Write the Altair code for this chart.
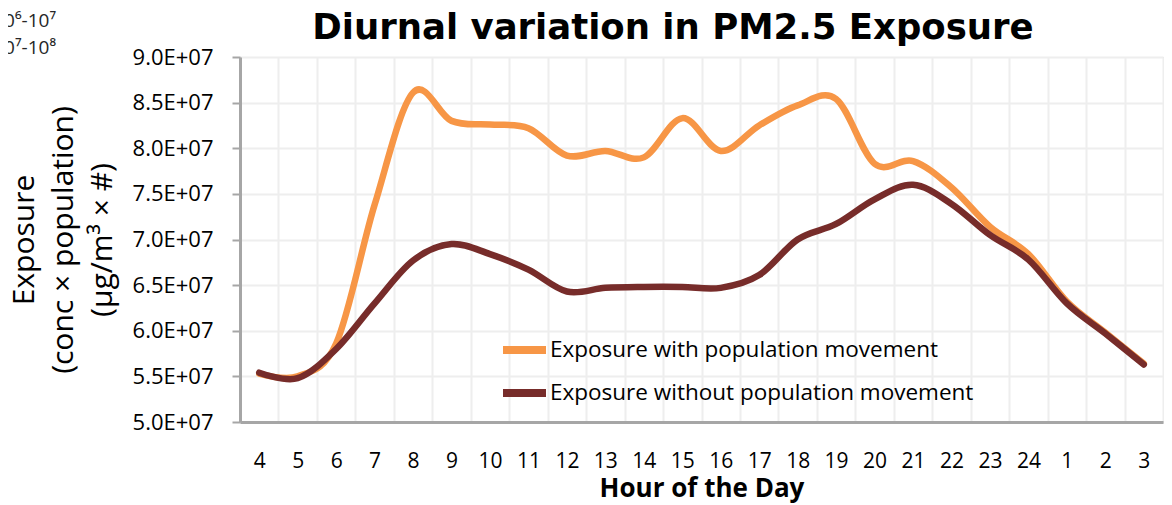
import altair as alt
import pandas as pd

# ---------------- data ----------------
hours = ["4", "5", "6", "7", "8", "9", "10", "11", "12", "13", "14", "15",
         "16", "17", "18", "19", "20", "21", "22", "23", "24", "1", "2", "3"]
with_movement = [5.53e7, 5.50e7, 5.86e7, 7.38e7, 8.61e7, 8.30e7, 8.26e7, 8.22e7,
                 7.92e7, 7.97e7, 7.90e7, 8.33e7, 7.97e7, 8.25e7, 8.47e7, 8.54e7,
                 7.83e7, 7.86e7, 7.57e7, 7.14e7, 6.84e7, 6.32e7, 5.98e7, 5.64e7]
without_movement = [5.54e7, 5.48e7, 5.80e7, 6.30e7, 6.77e7, 6.95e7, 6.84e7, 6.67e7,
                    6.43e7, 6.47e7, 6.48e7, 6.48e7, 6.47e7, 6.61e7, 7.00e7, 7.17e7,
                    7.44e7, 7.60e7, 7.39e7, 7.05e7, 6.78e7, 6.30e7, 5.97e7, 5.63e7]
series_names = ["Exposure with population movement",
                "Exposure without population movement"]
series_colors = ["#F79646", "#772C2A"]
y_ticks = [5.0e7, 5.5e7, 6.0e7, 6.5e7, 7.0e7, 7.5e7, 8.0e7, 8.5e7, 9.0e7]
title_text = "Diurnal variation in PM2.5 Exposure"
y_title_lines = ["Exposure", "(conc × population)", "(µg/m³ × #)"]
x_title_text = "Hour of the Day"
remnant_labels = ["10⁶-10⁷", "10⁷-10⁸"]

rows = []
for name, vals in zip(series_names, [with_movement, without_movement]):
    for i, (h, v) in enumerate(zip(hours, vals)):
        rows.append({"hour": h, "idx": i, "value": v, "series": name})
df = pd.DataFrame(rows)

FONT = "Open Sans"
W, H = 923, 365

lines = alt.Chart(df).mark_line(
    interpolate="cardinal", strokeWidth=6.5, strokeCap="round", strokeJoin="round"
).encode(
    x=alt.X("hour:O", sort=hours, bandPosition=0.5,
            scale=alt.Scale(type="band", paddingInner=0, paddingOuter=0),
            axis=alt.Axis(title=x_title_text, labelAngle=0, tickBand="extent",
                          ticks=False, tickSize=0, labelPadding=28,
                          labelFont=FONT, labelFontSize=21, labelColor="black",
                          grid=True, gridColor="#eeeeee", gridWidth=2,
                          domainColor="#a6a6a6", domainWidth=3,
                          titleFont=FONT, titleFontSize=26, titleFontWeight="bold",
                          titleColor="black", titleBaseline="alphabetic",
                          titleX=W / 2, titleY=74)),
    y=alt.Y("value:Q", scale=alt.Scale(domain=[5e7, 9e7], nice=False, zero=False),
            axis=alt.Axis(values=y_ticks,
                          labelExpr="format(datum.value/1e7, '.1f') + 'E+07'",
                          labelFont=FONT, labelFontSize=22, labelColor="black",
                          labelPadding=19, tickSize=8, tickColor="#a6a6a6", tickWidth=2,
                          domainColor="#a6a6a6", domainWidth=3,
                          grid=True, gridColor="#eeeeee", gridWidth=2,
                          title=y_title_lines, titleFont=FONT, titleFontSize=30,
                          titleFontWeight="normal", titleColor="black",
                          titleLineHeight=39, titleBaseline="bottom",
                          titleAngle=270, titleAlign="center",
                          titleX=-201, titleY=H / 2)),
    color=alt.Color("series:N",
                    scale=alt.Scale(domain=series_names, range=series_colors),
                    legend=alt.Legend(orient="none", legendX=259, legendY=267.5,
                                      title=None, symbolType="stroke", symbolSize=1849,
                                      symbolStrokeWidth=8, labelFont=FONT,
                                      labelFontSize=22.5, labelColor="black",
                                      labelOffset=0, rowPadding=1, padding=0,
                                      labelLimit=0)),
    order=alt.Order("idx:Q"),
)

title_layer = alt.Chart(pd.DataFrame({"t": [title_text]})).mark_text(
    font="DejaVu Sans", fontSize=35.5, fontWeight="bold", align="center",
    baseline="alphabetic", color="black"
).encode(text="t:N", x=alt.value(433), y=alt.value(-18))

rem1 = alt.Chart(pd.DataFrame({"t": [remnant_labels[0]]})).mark_text(
    font=FONT, fontSize=19, align="right", baseline="alphabetic", color="#262626"
).encode(text="t:N", x=alt.value(-184), y=alt.value(-30))

rem2 = alt.Chart(pd.DataFrame({"t": [remnant_labels[1]]})).mark_text(
    font=FONT, fontSize=19, align="right", baseline="alphabetic", color="#262626"
).encode(text="t:N", x=alt.value(-184), y=alt.value(-3))

chart = alt.layer(lines, title_layer, rem1, rem2).properties(
    width=W, height=H,
    autosize=alt.AutoSizeParams(type="none"),
    padding={"left": 232, "top": 49, "right": 1, "bottom": 81},
).configure_view(
    stroke="#bfbfbf", strokeWidth=3
).configure(background="white")

chart.save("out.html", embed_options={"renderer": "svg", "actions": False})
